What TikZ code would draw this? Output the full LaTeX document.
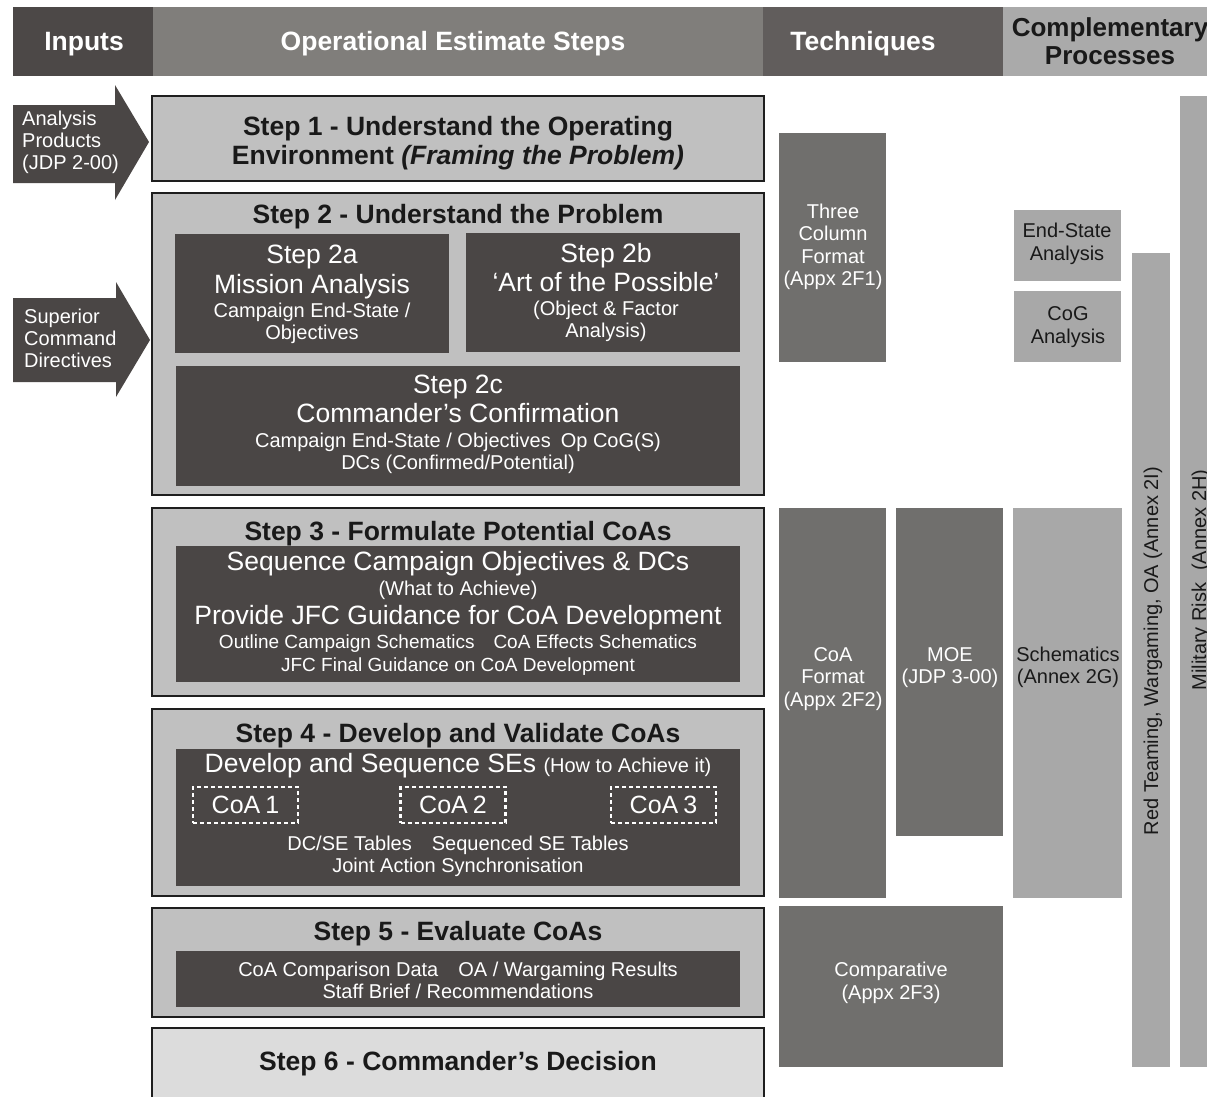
\documentclass[tikz,border=0pt]{standalone}
\usepackage{fontspec}
\setmainfont{Liberation Sans}
\definecolor{hdrdark}{RGB}{76,72,71}
\definecolor{hdrmid}{RGB}{128,126,123}
\definecolor{hdrtech}{RGB}{97,93,92}
\definecolor{hdrlight}{RGB}{170,170,170}
\definecolor{darkfill}{RGB}{74,70,69}
\definecolor{stepfill}{RGB}{192,192,192}
\definecolor{lastfill}{RGB}{220,220,220}
\definecolor{frame}{RGB}{30,30,30}
\definecolor{techfill}{RGB}{112,111,109}
\definecolor{compfill}{RGB}{168,168,168}
\definecolor{ink}{RGB}{25,25,25}
\begin{document}
\begin{tikzpicture}[x=1pt,y=-1pt,
  hdr/.style={font=\fontsize{26.5}{29}\selectfont\bfseries, text=white, anchor=base},
  hdrdarktext/.style={font=\fontsize{26}{29}\selectfont\bfseries, text=ink, anchor=base},
  steptitle/.style={font=\fontsize{26.5}{29}\selectfont\bfseries, text=ink, anchor=base, inner sep=0pt},
  big/.style={font=\fontsize{26.5}{30}\selectfont, text=white, anchor=base, inner sep=0pt},
  small/.style={font=\fontsize{20}{23}\selectfont, text=white, anchor=base, inner sep=0pt},
  dtext/.style={font=\fontsize{20}{23}\selectfont, text=ink, anchor=base, inner sep=0pt},
  leftlabel/.style={font=\fontsize{20}{23}\selectfont, text=white, anchor=base west, inner sep=0pt},
  stepframe/.style={draw=frame, line width=2pt, fill=stepfill},
  lastframe/.style={draw=frame, line width=2pt, fill=lastfill},
  darkbox/.style={fill=darkfill},
  techbox/.style={fill=techfill},
  compbox/.style={fill=compfill},
  coabox/.style={draw=white, line width=2.5pt, dash pattern=on 4pt off 3pt, minimum width=105pt, minimum height=36pt, inner sep=0pt, font=\fontsize{25}{28}\selectfont, text=white}
]
\useasboundingbox (0,0) rectangle (1207,1096);
\fill[white] (0,0) rectangle (1207,1096);

% header band
\fill[hdrdark]  (13,7)   rectangle (153,76);
\fill[hdrmid]   (153,7)  rectangle (763,76);
\fill[hdrtech]  (763,7)  rectangle (1003,76);
\fill[hdrlight] (1003,7) rectangle (1230,76);
\node[hdr] (hInputs) at (84,50) {Inputs};
\node[hdr] (hSteps) at (453,50) {Operational Estimate Steps};
\node[hdr] (hTech) at (863,50) {Techniques};
\node[hdrdarktext] (hComp1) at (1110,36) {Complementary};
\node[hdrdarktext] (hComp2) at (1110,64) {Processes};

% input arrows
\fill[darkfill] (13,105) -- (115,105) -- (115,85) -- (149,142) -- (115,200) -- (115,183) -- (13,183) -- cycle;
\node[leftlabel] (in1a) at (22,125) {Analysis};
\node[leftlabel] (in1b) at (22,147) {Products};
\node[leftlabel] (in1c) at (22,169) {(JDP 2-00)};
\fill[darkfill] (13,298) -- (116,298) -- (116,282) -- (150,340) -- (116,397) -- (116,382) -- (13,382) -- cycle;
\node[leftlabel] (in2a) at (24,323) {Superior};
\node[leftlabel] (in2b) at (24,345) {Command};
\node[leftlabel] (in2c) at (24,367) {Directives};

% Step 1
\draw[stepframe] (152,96) rectangle (764,181);
\node[steptitle] (s1a) at (458,135) {Step 1 - Understand the Operating};
\node[steptitle] (s1b) at (458,164) {Environment \textit{(Framing the Problem)}};

% Step 2
\draw[stepframe] (152,193) rectangle (764,495);
\node[steptitle] (s2) at (458,223) {Step 2 - Understand the Problem};
\fill[darkbox] (175,234) rectangle (449,353);
\node[big] (s2a1) at (312,263) {Step 2a};
\node[big] (s2a2) at (312,293) {Mission Analysis};
\node[small] (s2a3) at (312,317) {Campaign End-State /};
\node[small] (s2a4) at (312,339) {Objectives};
\fill[darkbox] (466,233) rectangle (740,352);
\node[big] (s2b1) at (606,262) {Step 2b};
\node[big] (s2b2) at (606,291) {‘Art of the Possible’};
\node[small] (s2b3) at (606,315) {(Object \& Factor};
\node[small] (s2b4) at (606,337) {Analysis)};
\fill[darkbox] (176,366) rectangle (740,486);
\node[big] (s2c1) at (458,393) {Step 2c};
\node[big] (s2c2) at (458,422) {Commander’s Confirmation};
\node[small] (s2c3) at (458,447) {Campaign End-State / Objectives\hspace{0.5em}Op CoG(S)};
\node[small] (s2c4) at (458,469) {DCs (Confirmed/Potential)};

% Step 3
\draw[stepframe] (152,508) rectangle (764,696);
\node[steptitle] (s3) at (458,540) {Step 3 - Formulate Potential CoAs};
\fill[darkbox] (176,546) rectangle (740,682);
\node[big] (s3a) at (458,570) {Sequence Campaign Objectives \& DCs};
\node[small] (s3b) at (458,595) {(What to Achieve)};
\node[big] (s3c) at (458,624) {Provide JFC Guidance for CoA Development};
\node[small,font=\fontsize{19}{22}\selectfont] (s3d) at (458,648) {Outline Campaign Schematics\hspace{1em}CoA Effects Schematics};
\node[small,font=\fontsize{19}{22}\selectfont] (s3e) at (458,671) {JFC Final Guidance on CoA Development};

% Step 4
\draw[stepframe] (152,709) rectangle (764,896);
\node[steptitle] (s4) at (458,742) {Step 4 - Develop and Validate CoAs};
\fill[darkbox] (176,749) rectangle (740,886);
\node[big] (s4a) at (458,772) {Develop and Sequence SEs {\fontsize{20}{23}\selectfont(How to Achieve it)}};
\node[coabox] (coa1) at (245.5,805) {CoA\hspace{0.2em}1};
\node[coabox] (coa2) at (453,805) {CoA\hspace{0.2em}2};
\node[coabox] (coa3) at (663.5,805) {CoA\hspace{0.2em}3};
\node[small] (s4b) at (458,850) {DC/SE Tables\hspace{1em}Sequenced SE Tables};
\node[small] (s4c) at (458,872) {Joint Action Synchronisation};

% Step 5
\draw[stepframe] (152,908) rectangle (764,1017);
\node[steptitle] (s5) at (458,940) {Step 5 - Evaluate CoAs};
\fill[darkbox] (176,951) rectangle (740,1007);
\node[small] (s5a) at (458,976) {CoA Comparison Data\hspace{1em}OA / Wargaming Results};
\node[small] (s5b) at (458,998) {Staff Brief / Recommendations};

% Step 6
\draw[lastframe] (152,1028) rectangle (764,1110);
\node[steptitle] (s6) at (458,1070) {Step 6 - Commander’s Decision};

% techniques
\fill[techbox] (779,133) rectangle (886,362);
\node[small] (t1a) at (833,218) {Three};
\node[small] (t1b) at (833,240) {Column};
\node[small] (t1c) at (833,263) {Format};
\node[small] (t1d) at (833,285) {(Appx 2F1)};
\fill[techbox] (779,508) rectangle (886,898);
\node[small] (t2a) at (833,661) {CoA};
\node[small] (t2b) at (833,683) {Format};
\node[small] (t2c) at (833,706) {(Appx 2F2)};
\fill[techbox] (896,508) rectangle (1003,836);
\node[small] (t3a) at (950,661) {MOE};
\node[small] (t3b) at (950,683) {(JDP 3-00)};
\fill[techbox] (779,906) rectangle (1003,1067);
\node[small] (t4a) at (891,976) {Comparative};
\node[small] (t4b) at (891,999) {(Appx 2F3)};

% complementary processes
\fill[compbox] (1014,210) rectangle (1121,281);
\node[dtext] (c1a) at (1067,237) {End-State};
\node[dtext] (c1b) at (1067,260) {Analysis};
\fill[compbox] (1014,291) rectangle (1121,362);
\node[dtext] (c2a) at (1068,320) {CoG};
\node[dtext] (c2b) at (1068,343) {Analysis};
\fill[compbox] (1013,508) rectangle (1122,898);
\node[dtext] (c3a) at (1068,661) {Schematics};
\node[dtext] (c3b) at (1068,683) {(Annex 2G)};
\fill[compbox] (1132,253) rectangle (1170,1067);
\node[dtext, rotate=90] (c4) at (1158,651) {Red Teaming, Wargaming, OA (Annex 2I)};
\fill[compbox] (1180,96) rectangle (1230,1067);
\node[dtext, rotate=90] (c5) at (1206,580) {Military Risk\hspace{0.6em}(Annex 2H)};
\end{tikzpicture}
\end{document}
